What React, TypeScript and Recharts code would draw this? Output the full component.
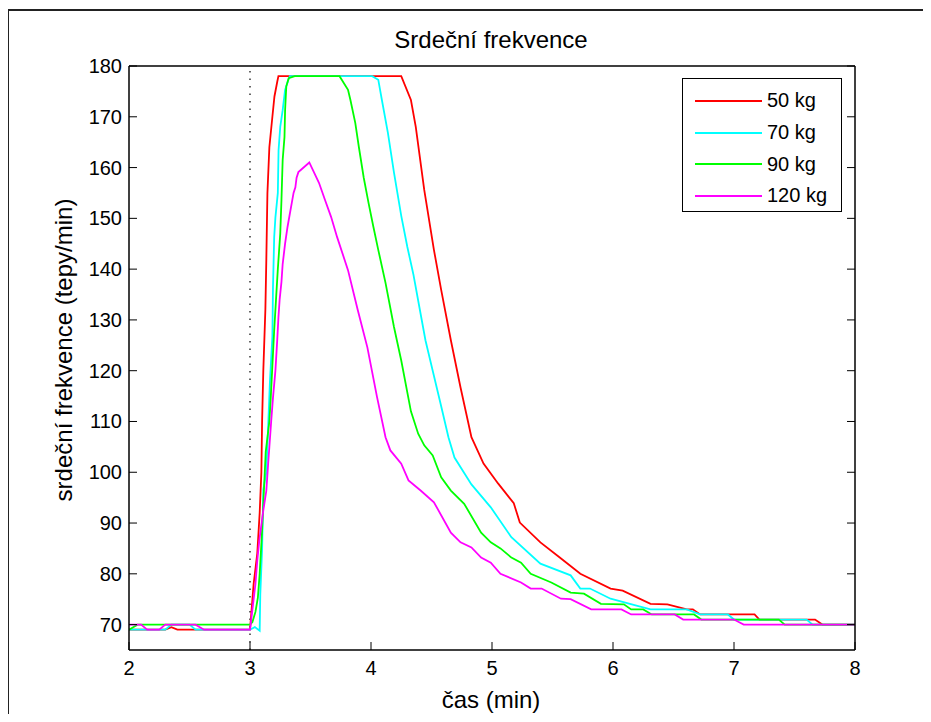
import { Legend, Line, LineChart, ReferenceLine, XAxis, YAxis } from 'recharts';

// [čas (min), tepy/min]
const hr50: [number, number][] = [
  [2, 69], [2.3, 69], [2.35, 69.5], [2.4, 69], [3.0, 69], [3.01, 72], [3.03, 78], [3.06, 84],
  [3.08, 92], [3.094, 100], [3.1, 110], [3.11, 120], [3.127, 132], [3.135, 142], [3.144, 155],
  [3.16, 164], [3.185, 170], [3.202, 174], [3.226, 177], [3.235, 178], [4.25, 178], [4.33, 173.3],
  [4.37, 168], [4.44, 155.6], [4.52, 143.8], [4.58, 135.9], [4.66, 126], [4.74, 116.7],
  [4.83, 106.9], [4.93, 101.7], [5.05, 97.8], [5.18, 93.9], [5.23, 90.1], [5.4, 86.2],
  [5.56, 83.2], [5.73, 80], [5.98, 77.1], [6.08, 76.7], [6.31, 74.1], [6.45, 74], [6.61, 73],
  [6.66, 73], [6.72, 72], [7.17, 72], [7.21, 71], [7.67, 71], [7.73, 70], [8, 70],
];

const hr70: [number, number][] = [
  [2, 69], [2.3, 69], [2.35, 70], [2.5, 70], [2.55, 69], [3.0, 69], [3.04, 69.5], [3.08, 68.8],
  [3.085, 76], [3.1, 84.8], [3.11, 96.6], [3.135, 100], [3.15, 109], [3.165, 118], [3.185, 126.7],
  [3.19, 136.6], [3.2, 146.3], [3.21, 150.2], [3.23, 155], [3.236, 163.4], [3.25, 168],
  [3.27, 171.3], [3.29, 175.3], [3.32, 177.5], [3.33, 178], [4.01, 178], [4.06, 177.3],
  [4.09, 173.3], [4.14, 166.8], [4.19, 159], [4.25, 150.5], [4.3, 144.4], [4.35, 139],
  [4.4, 132.5], [4.45, 126], [4.51, 120], [4.58, 113], [4.64, 106.9], [4.69, 102.9],
  [4.83, 97.6], [4.99, 93.1], [5.16, 87.2], [5.4, 82], [5.65, 79.7], [5.73, 77.1], [5.81, 77.1],
  [5.98, 75.1], [6.14, 74.1], [6.31, 73], [6.61, 73], [6.72, 72], [6.95, 72], [7.0, 71],
  [7.6, 71], [7.65, 70], [8, 70],
];

const hr90: [number, number][] = [
  [2, 69], [2.07, 70], [3.0, 70], [3.02, 70.5], [3.045, 72.5], [3.065, 75.3], [3.08, 80],
  [3.1, 88.5], [3.115, 96.4], [3.13, 104], [3.16, 110], [3.17, 114], [3.185, 121], [3.2, 128],
  [3.215, 134], [3.23, 140], [3.25, 147], [3.26, 153.6], [3.27, 161.5], [3.285, 166],
  [3.29, 171.3], [3.3, 176], [3.32, 177.6], [3.37, 178], [3.74, 178], [3.81, 175.3],
  [3.83, 173.3], [3.87, 168.8], [3.9, 164], [3.94, 158], [3.98, 153], [4.02, 148.3],
  [4.06, 143.8], [4.12, 137.3], [4.19, 128.6], [4.25, 122], [4.33, 112], [4.39, 107.6],
  [4.44, 105.3], [4.51, 103.3], [4.58, 99], [4.66, 96.4], [4.77, 93.8], [4.91, 88.1],
  [4.99, 86.2], [5.07, 85], [5.16, 83.2], [5.24, 82.2], [5.32, 80], [5.49, 78.3], [5.65, 76.3],
  [5.76, 76.1], [5.9, 74.1], [6.09, 74], [6.15, 73], [6.25, 73], [6.32, 72], [6.67, 72],
  [6.73, 71], [7.37, 71], [7.42, 70], [8, 70],
];

const hr120: [number, number][] = [
  [2, 70], [2.1, 70], [2.15, 69], [2.25, 69], [2.3, 70], [2.55, 70], [2.62, 69], [3.0, 69],
  [3.01, 71], [3.02, 73], [3.045, 78], [3.06, 82.6], [3.077, 86.6], [3.11, 92.5], [3.135, 96.4],
  [3.15, 101.7], [3.16, 105], [3.175, 110], [3.19, 114.7], [3.21, 120], [3.225, 126],
  [3.235, 130.5], [3.245, 134], [3.26, 137.5], [3.27, 141], [3.29, 145], [3.31, 148.3],
  [3.33, 151], [3.345, 153], [3.36, 155], [3.375, 156.1], [3.385, 158], [3.4, 159.1],
  [3.49, 161], [3.57, 157], [3.62, 153.6], [3.67, 150.3], [3.72, 146.3], [3.81, 139.8],
  [3.89, 132], [3.97, 124.6], [4.05, 114.8], [4.12, 106.9], [4.16, 104.3], [4.25, 101.7],
  [4.31, 98.4], [4.41, 96.4], [4.52, 94.1], [4.66, 88.1], [4.74, 86.2], [4.83, 85.2],
  [4.91, 83.2], [4.99, 82.2], [5.07, 80], [5.24, 78.3], [5.32, 77.1], [5.41, 77.1], [5.57, 75.1],
  [5.65, 75], [5.82, 73], [6.07, 73], [6.15, 72], [6.51, 72], [6.58, 71], [7.0, 71], [7.08, 70],
  [8, 70],
];

const xTicks = [2, 3, 4, 5, 6, 7, 8];
const yTicks = [70, 80, 90, 100, 110, 120, 130, 140, 150, 160, 170, 180];

const series = [
  { name: '50 kg', color: '#ff0000', points: hr50 },
  { name: '70 kg', color: '#00ffff', points: hr70 },
  { name: '90 kg', color: '#00ff00', points: hr90 },
  { name: '120 kg', color: '#ff00ff', points: hr120 },
];

const FONT = '"Liberation Sans", Arial, sans-serif';
const TICK_LEN = 8;

// MATLAB style: ticks point into the plot on every side
const BottomTick = (props: any) => {
  const { x, y, payload } = props;
  return (
    <g>
      <line x1={x} x2={x} y1={y} y2={y - TICK_LEN} stroke='#000' />
      <text x={x} y={y + 18} textAnchor='middle' dominantBaseline='central' fontSize={20} fontFamily={FONT} fill='#000'>
        {payload.value}
      </text>
    </g>
  );
};

const LeftTick = (props: any) => {
  const { x, y, payload } = props;
  return (
    <g>
      <line x1={x} x2={x + TICK_LEN} y1={y} y2={y} stroke='#000' />
      <text x={x - 7} y={y} textAnchor='end' dominantBaseline='central' fontSize={20} fontFamily={FONT} fill='#000'>
        {payload.value}
      </text>
    </g>
  );
};

const TopTick = (props: any) => {
  const { x, y } = props;
  return <line x1={x} x2={x} y1={y} y2={y + TICK_LEN} stroke='#000' />;
};

const RightTick = (props: any) => {
  const { x, y } = props;
  return <line x1={x} x2={x - TICK_LEN} y1={y} y2={y} stroke='#000' />;
};

const renderLegend = () => (
  <div
    style={{
      width: 160,
      height: 134,
      border: '1.5px solid #000',
      background: '#fff',
      boxSizing: 'border-box',
      paddingTop: 6,
      fontFamily: FONT,
      fontSize: 20,
    }}
  >
    {series.map((s) => (
      <div key={s.name} style={{ display: 'flex', alignItems: 'center', height: 31.7 }}>
        <div style={{ width: 67, height: 2, background: s.color, marginLeft: 12, marginRight: 5 }} />
        <span>{s.name}</span>
      </div>
    ))}
  </div>
);

const labelStyle = {
  position: 'absolute' as const,
  fontFamily: FONT,
  fontSize: 24,
  lineHeight: '24px',
  whiteSpace: 'nowrap' as const,
};

export default function App() {
  return (
    <div style={{ position: 'relative', width: 931, height: 722, margin: -8, overflow: 'hidden', background: '#fff' }}>
      <div
        style={{
          position: 'absolute',
          left: 7,
          top: 9,
          width: 918,
          height: 740,
          border: '2px solid #222',
        }}
      />
      <div style={{ position: 'absolute', left: 0, top: 0 }}>
        <LineChart width={931} height={722} margin={{ top: 56, right: 66, bottom: 42, left: 69 }}>
          <XAxis
            xAxisId='b'
            type='number'
            dataKey='t'
            domain={[2, 8]}
            ticks={xTicks}
            allowDataOverflow
            height={30}
            tickSize={0}
            tickMargin={0}
            tickLine={false}
            axisLine={{ stroke: '#000', strokeWidth: 1.5 }}
            tick={<BottomTick />}
          />
          <XAxis
            xAxisId='top'
            orientation='top'
            type='number'
            domain={[2, 8]}
            ticks={xTicks}
            allowDataOverflow
            height={10}
            tickSize={0}
            tickMargin={0}
            tickLine={false}
            axisLine={{ stroke: '#000', strokeWidth: 1.5 }}
            tick={<TopTick />}
          />
          <YAxis
            yAxisId='l'
            type='number'
            domain={[65, 180]}
            ticks={yTicks}
            allowDataOverflow
            width={60}
            tickSize={0}
            tickMargin={0}
            tickLine={false}
            axisLine={{ stroke: '#000', strokeWidth: 1.5 }}
            tick={<LeftTick />}
          />
          <YAxis
            yAxisId='right'
            orientation='right'
            type='number'
            domain={[65, 180]}
            ticks={yTicks}
            allowDataOverflow
            width={10}
            tickSize={0}
            tickMargin={0}
            tickLine={false}
            axisLine={{ stroke: '#000', strokeWidth: 1.5 }}
            tick={<RightTick />}
          />
          <ReferenceLine
            xAxisId='b'
            yAxisId='l'
            x={3}
            stroke='#333'
            strokeWidth={1.5}
            strokeDasharray='1.5 6'
          />
          {series.map((s) => (
            <Line
              key={s.name}
              xAxisId='b'
              yAxisId='l'
              name={s.name}
              data={s.points.map(([t, v]) => ({ t, v }))}
              dataKey='v'
              type='linear'
              stroke={s.color}
              strokeWidth={1.8}
              dot={false}
              activeDot={false}
              isAnimationActive={false}
            />
          ))}
          <Legend
            layout='vertical'
            align='center'
            verticalAlign='middle'
            content={renderLegend}
            wrapperStyle={{ position: 'absolute', left: 682, top: 78, width: 160, height: 134 }}
          />
        </LineChart>
      </div>
      <div style={{ ...labelStyle, left: 0, width: 982, top: 28, textAlign: 'center' }}>
        Srdeční frekvence
      </div>
      <div style={{ ...labelStyle, left: 0, width: 982, top: 688, textAlign: 'center' }}>
        čas (min)
      </div>
      <div
        style={{
          ...labelStyle,
          left: 64,
          top: 350,
          transform: 'translate(-50%, -50%) rotate(-90deg)',
        }}
      >
        srdeční frekvence (tepy/min)
      </div>
    </div>
  );
}
